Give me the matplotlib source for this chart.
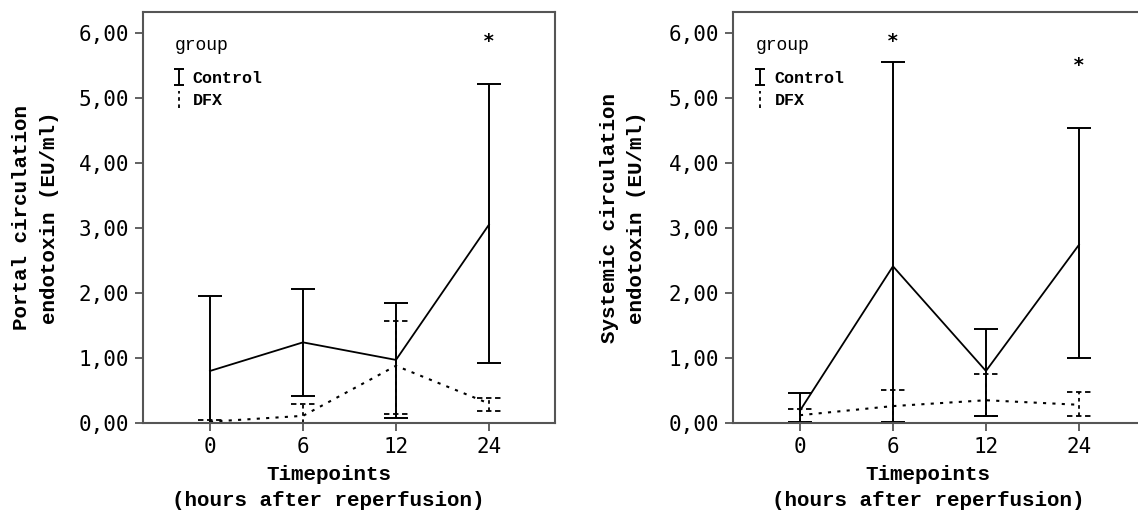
import matplotlib
matplotlib.use('Agg')
import matplotlib.pyplot as plt
from matplotlib.legend_handler import HandlerErrorbar
from matplotlib.lines import Line2D
import numpy as np


# Data
timepoints = ['0', '6', '12', '24']

portal_ctrl_mean = [0.80, 1.24, 0.97, 3.05]
portal_ctrl_lo = [0.00, 0.41, 0.07, 0.93]
portal_ctrl_hi = [1.95, 2.06, 1.84, 5.22]
portal_dfx_mean = [0.02, 0.11, 0.88, 0.30]
portal_dfx_lo = [0.00, 0.00, 0.14, 0.19]
portal_dfx_hi = [0.04, 0.29, 1.57, 0.39]
portal_star_x = [3]
portal_star_y = [5.86]

syst_ctrl_mean = [0.19, 2.41, 0.80, 2.74]
syst_ctrl_lo = [0.01, 0.01, 0.10, 1.00]
syst_ctrl_hi = [0.46, 5.55, 1.45, 4.53]
syst_dfx_mean = [0.12, 0.26, 0.35, 0.28]
syst_dfx_lo = [0.02, 0.01, 0.10, 0.10]
syst_dfx_hi = [0.21, 0.50, 0.75, 0.47]
syst_star_x = [1, 3]
syst_star_y = [5.86, 5.50]

yticks = [0, 1, 2, 3, 4, 5, 6]

MONO = 'Liberation Mono'
TICKFONT = 'DejaVu Sans Mono'
SPINE = '#555555'
CAP = 0.13
DOT = (0, (1.5, 3.0))


def small_caps(handle, orig):
    # keep the legend glyph a small "I"
    handle.update_from(orig)
    if isinstance(handle, Line2D):
        handle.set_markersize(7)


def panel(ax, cm, clo, chi, dm, dlo, dhi, sx, sy, ylabel, xlab_x, ylab_x, leg_x):
    x = np.arange(len(timepoints))
    cm, clo, chi = np.array(cm), np.array(clo), np.array(chi)
    dm, dlo, dhi = np.array(dm), np.array(dlo), np.array(dhi)

    # mean lines
    ax.plot(x, cm, color='black', lw=1.3)
    ax.plot(x, dm, color='black', lw=1.5, linestyle=DOT)

    # control error bars (solid)
    ec = ax.errorbar(x, cm, yerr=[cm - clo, chi - cm], fmt='none',
                     ecolor='black', elinewidth=1.4, capsize=8.5, capthick=1.4,
                     label='Control')
    # DFX error bars (dashed)
    ed = ax.errorbar(x, dm, yerr=[dm - dlo, dhi - dm], fmt='none',
                     ecolor='black', elinewidth=1.3, capsize=0,
                     label='DFX')
    for lc in ed[2]:
        lc.set_linestyle((0, (2, 2)))
    ax.hlines(np.concatenate([dlo, dhi]), np.concatenate([x, x]) - CAP,
              np.concatenate([x, x]) + CAP, colors='black', lw=1.3,
              linestyles=(0, (3, 2)))

    for xs, ys in zip(sx, sy):
        ax.text(xs, ys, '*', ha='center', va='center', fontsize=14,
                family=TICKFONT, fontweight='bold')

    ax.set_xlim(-0.72, 3.71)
    ax.set_ylim(0, 6.32)
    ax.set_xticks(x)
    ax.set_xticklabels(timepoints, family=TICKFONT, fontsize=15)
    ax.set_yticks(yticks)
    ax.set_yticklabels([f'{v:.2f}'.replace('.', ',') for v in yticks],
                       family=TICKFONT, fontsize=15)
    ax.tick_params(direction='out', length=6, width=1.3, color=SPINE, pad=4)
    for s in ax.spines.values():
        s.set_color(SPINE)
        s.set_linewidth(1.5)

    ax.set_xlabel('Timepoints\n(hours after reperfusion)', family=MONO,
                  fontweight='bold', fontsize=15, linespacing=1.45)
    ax.xaxis.set_label_coords(xlab_x, -0.102)
    ax.set_ylabel(ylabel, family=MONO, fontweight='bold', fontsize=15,
                  linespacing=1.55)
    ax.yaxis.set_label_coords(ylab_x, 0.5)

    hmap = {type(ec): HandlerErrorbar(update_func=small_caps)}
    leg = ax.legend(handles=[ec, ed], title='group', loc='upper left',
                    bbox_to_anchor=(leg_x, 0.975), frameon=False,
                    handlelength=0.5, handletextpad=0.6, labelspacing=0.45,
                    handler_map=hmap,
                    prop={'family': MONO, 'size': 12, 'weight': 'bold'},
                    title_fontproperties={'family': MONO, 'size': 13})
    leg._legend_box.align = 'left'
    leg._legend_box.sep = 12


fig = plt.figure(figsize=(11.38, 5.11), dpi=100)
ax1 = fig.add_axes([143 / 1138, 88 / 511, 412 / 1138, 411 / 511])
ax2 = fig.add_axes([733 / 1138, 88 / 511, 412 / 1138, 411 / 511])

panel(ax1, portal_ctrl_mean, portal_ctrl_lo, portal_ctrl_hi,
      portal_dfx_mean, portal_dfx_lo, portal_dfx_hi,
      portal_star_x, portal_star_y,
      'Portal circulation\nendotoxin (EU/ml)', 0.45, -0.205, 0.04)
panel(ax2, syst_ctrl_mean, syst_ctrl_lo, syst_ctrl_hi,
      syst_dfx_mean, syst_dfx_lo, syst_dfx_hi,
      syst_star_x, syst_star_y,
      'Systemic circulation\nendotoxin (EU/ml)', 0.473, -0.21, 0.02)

fig.savefig('out.png', dpi=100)
